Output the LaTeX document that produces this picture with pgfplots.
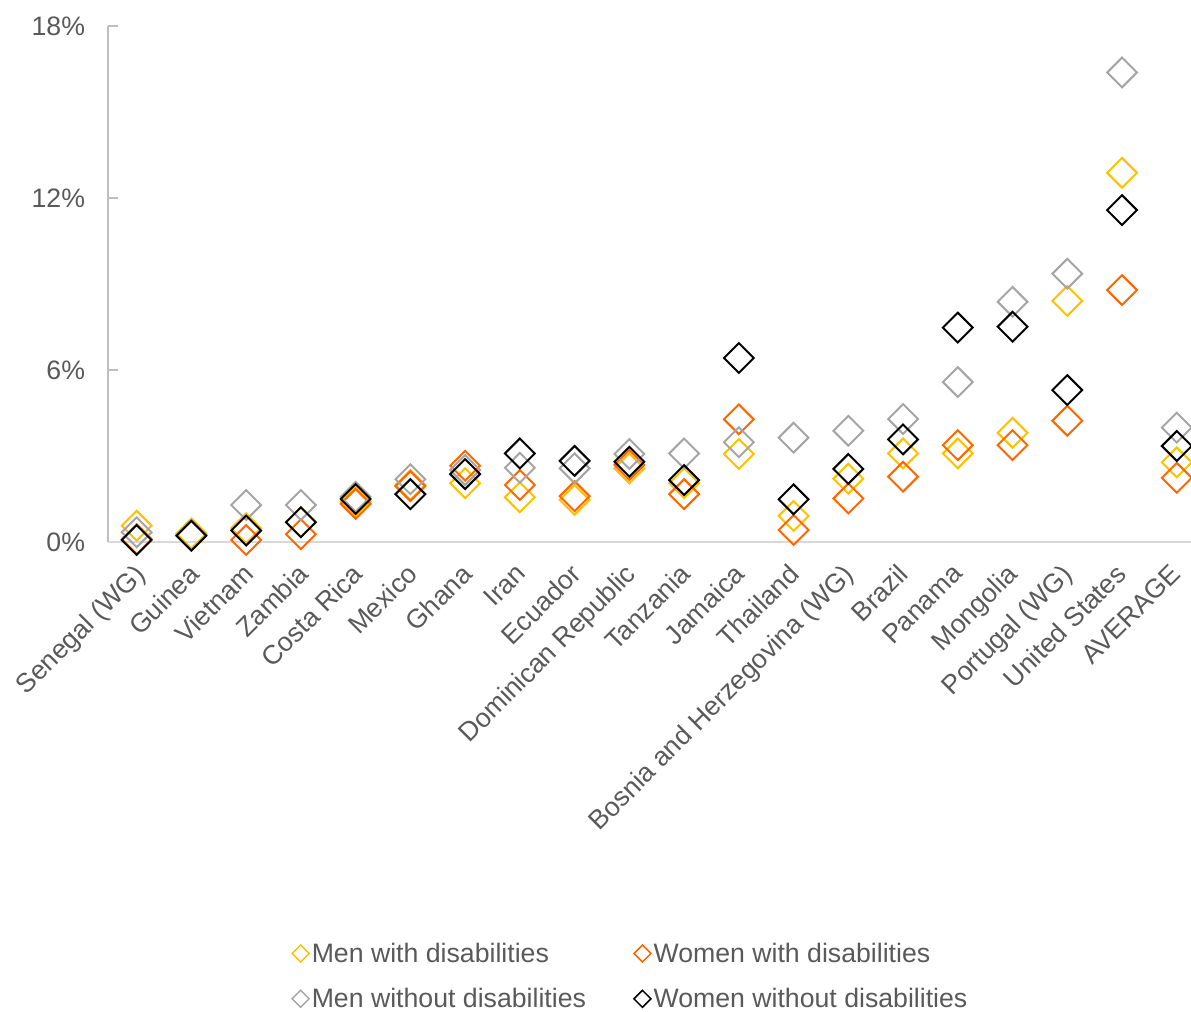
\documentclass[border=0pt]{standalone}
\usepackage{pgfplots}
\pgfplotsset{compat=1.18}
\usepackage{fontspec}
\setmainfont{Liberation Sans}
\definecolor{cYel}{HTML}{FFC000}
\definecolor{cOra}{HTML}{FF6600}
\definecolor{cGry}{HTML}{A5A5A5}
\definecolor{cTxt}{HTML}{595959}
\definecolor{cAxY}{HTML}{BFBFBF}
\definecolor{cAxX}{HTML}{D9D9D9}
\pgfplotstableread{
x  mw    ww    mwo   wwo
0  0.57  0.10  0.34  0.07
1  0.30  0.22  0.25  0.22
2  0.48  0.07  1.29  0.40
3  0.70  0.27  1.29  0.69
4  1.42  1.33  1.58  1.50
5  1.99  1.95  2.19  1.67
6  2.05  2.66  2.51  2.37
7  1.56  1.99  2.59  3.09
8  1.47  1.60  2.57  2.83
9  2.57  2.69  3.07  2.80
10 2.05  1.67  3.09  2.16
11 3.07  4.28  3.48  6.42
12 0.91  0.42  3.64  1.49
13 2.21  1.52  3.88  2.55
14 3.09  2.28  4.29  3.58
15 3.09  3.38  5.58  7.48
16 3.81  3.38  8.38  7.51
17 8.41  4.23  9.36  5.30
18 12.88 8.79  16.38 11.58
19 2.78  2.24  3.99  3.35
}\datatable
\begin{document}
\begin{tikzpicture}[font=\fontsize{20pt}{24pt}\selectfont, text=cTxt]
\begin{axis}[
  scale only axis,
  width=812.25pt, height=387pt,
  xmin=-0.524, xmax=19.26,
  ymin=0, ymax=18,
  clip=false,
  axis x line*=bottom, axis y line*=left,
  x axis line style={draw=cAxX, line width=1.2pt, -},
  y axis line style={draw=cAxY, line width=1.1pt, -},
  ytick={0,6,12,18},
  yticklabels={0\%,6\%,12\%,18\%},
  tick align=inside,
  major tick length=7.5pt,
  ytick style={draw=cAxY, line width=1.1pt},
  xtick={-0.073,0.923,1.919,2.916,3.912,4.908,5.904,6.900,7.896,8.892,9.889,10.885,11.881,12.877,13.873,14.869,15.865,16.862,17.858,18.854},
  xtick style={draw=none},
  xticklabels={Senegal (WG),Guinea,Vietnam,Zambia,Costa Rica,Mexico,Ghana,Iran,Ecuador,Dominican Republic,Tanzania,Jamaica,Thailand,Bosnia and Herzegovina (WG),Brazil,Panama,Mongolia,Portugal (WG),United States,AVERAGE},
  xticklabel style={yshift=-15pt, rotate=45, anchor=north east, inner sep=0pt, text=cTxt},
  yticklabel style={anchor=east, inner sep=0pt, xshift=-17pt, text=cTxt},
  every axis plot/.append style={only marks, mark=square, mark size=7.9pt, line width=1.5pt, mark options={rotate=45, solid, fill=none}},
  legend columns=2,
  legend style={draw=none, fill=none, at={(rel axis cs:0.483,-0.771)}, anchor=north, text=cTxt,
    /tikz/every even column/.append style={column sep=34pt},
    row sep=14pt, inner sep=0pt, cells={anchor=west, inner sep=1.5pt}},
  legend image code/.code={\draw[mark size=4.5pt, line width=1.1pt] plot coordinates {(6.4pt,0pt)};},
]
\addplot[draw=cYel] table[x=x, y=mw] {\datatable};
\addlegendentry{Men with disabilities}
\addplot[draw=cOra] table[x=x, y=ww] {\datatable};
\addlegendentry{Women with disabilities}
\addplot[draw=cGry] table[x=x, y=mwo] {\datatable};
\addlegendentry{Men without disabilities}
\addplot[draw=black] table[x=x, y=wwo] {\datatable};
\addlegendentry{Women without disabilities}
\coordinate (bbA) at (rel axis cs:-0.0997,-0.9089);
\coordinate (bbB) at (rel axis cs:1.0,1.0504);
\end{axis}
\pgfresetboundingbox
\path[use as bounding box] (bbA) rectangle (bbB);
\end{tikzpicture}
\end{document}
